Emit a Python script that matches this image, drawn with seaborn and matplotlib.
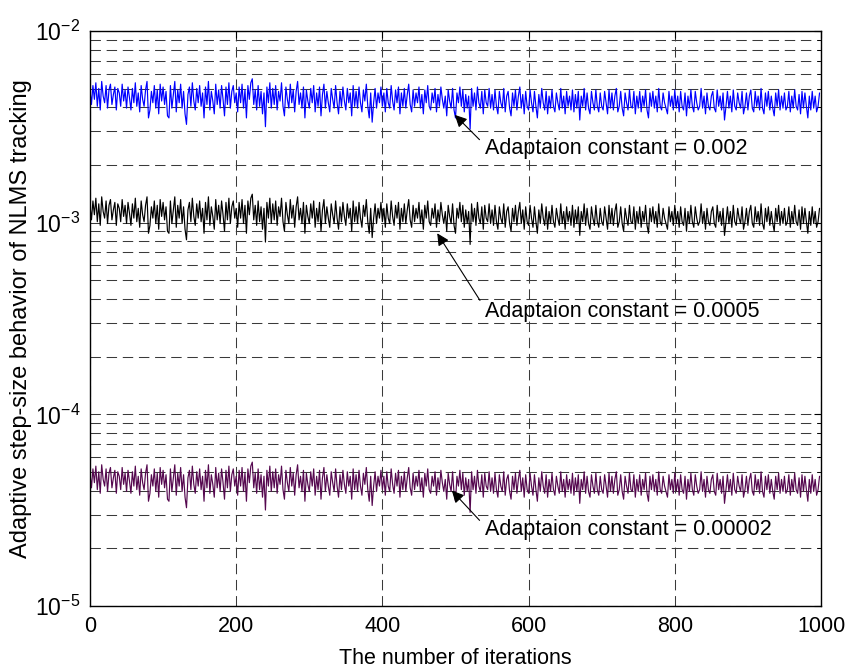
import numpy as np
import pandas as pd
import matplotlib
matplotlib.use("Agg")
import matplotlib.pyplot as plt
import matplotlib.ticker as mticker
import seaborn as sns

# Step-size trace, in percent of each run's steady level (one sample every 2 iterations)
trace_pct = [
    112, 94, 118, 100, 122, 92, 114, 88, 124, 104, 96, 118, 90, 112, 120, 94, 106, 116, 88, 114, 108, 92, 120, 98, 112,
    90, 116, 102, 88, 114, 96, 122, 92, 108, 86, 118, 100, 92, 112, 124, 80, 88, 110, 96, 118, 90, 112, 84, 120, 98,
    116, 94, 110, 82, 80, 118, 90, 106, 124, 86, 112, 96, 120, 90, 110, 84, 74, 106, 116, 92, 122, 98, 88, 114, 96,
    118, 92, 108, 80, 116, 94, 124, 88, 110, 98, 84, 120, 94, 112, 90, 118, 100, 82, 116, 94, 122, 90, 110, 118, 96,
    108, 86, 116, 96, 120, 90, 112, 80, 118, 100, 122, 128, 94, 112, 88, 118, 92, 110, 84, 108, 72, 116, 96, 122, 90,
    114, 94, 118, 88, 110, 98, 122, 92, 82, 116, 100, 90, 120, 96, 112, 86, 110, 124, 94, 108, 90, 116, 80, 112, 98,
    90, 114, 96, 118, 86, 108, 92, 116, 82, 106, 120, 90, 110, 96, 86, 114, 100, 90, 118, 96, 84, 110, 92, 116, 98,
    88, 114, 96, 108, 82, 118, 92, 110, 90, 116, 96, 86, 112, 98, 120, 92, 80, 108, 76, 96, 114, 90, 108, 96, 116,
    92, 108, 86, 114, 96, 90, 118, 98, 88, 112, 96, 116, 84, 108, 92, 114, 90, 106, 120, 94, 86, 112, 92, 108, 96,
    116, 90, 106, 84, 112, 96, 118, 92, 88, 108, 96, 114, 86, 106, 92, 116, 100, 90, 104, 82, 112, 98, 90, 114, 88,
    80, 108, 96, 116, 92, 112, 86, 106, 90, 104, 70, 114, 92, 108, 88, 116, 96, 90, 110, 84, 112, 96, 92, 114, 90,
    106, 88, 112, 92, 84, 110, 96, 90, 114, 86, 104, 110, 90, 82, 108, 92, 112, 88, 104, 116, 90, 106, 84, 110, 92,
    88, 112, 96, 86, 110, 92, 80, 106, 90, 114, 96, 88, 110, 84, 104, 90, 112, 92, 86, 108, 96, 88, 114, 90, 104,
    84, 110, 92, 104, 88, 112, 86, 106, 90, 110, 78, 104, 92, 114, 88, 108, 90, 84, 110, 96, 88, 112, 92, 86, 108,
    92, 88, 110, 96, 84, 112, 90, 108, 88, 104, 114, 86, 92, 110, 90, 82, 108, 96, 88, 112, 92, 90, 110, 84, 104,
    90, 110, 86, 104, 92, 112, 88, 80, 108, 92, 110, 90, 104, 86, 114, 92, 88, 108, 96, 90, 84, 110, 92, 104, 88,
    112, 90, 104, 86, 110, 92, 88, 108, 82, 104, 90, 112, 92, 86, 110, 96, 88, 92, 114, 90, 104, 84, 108, 92, 88,
    104, 110, 90, 86, 112, 92, 104, 88, 108, 78, 92, 110, 90, 104, 86, 112, 92, 88, 108, 96, 90, 110, 84, 92, 108,
    88, 104, 112, 90, 86, 110, 92, 104, 88, 114, 90, 84, 108, 92, 110, 88, 104, 90, 82, 108, 92, 112, 88, 104, 90,
    108, 88, 92, 110, 86, 104, 90, 112, 92, 88, 106, 84, 110, 90, 108, 92, 80, 104, 88, 110, 90, 104, 86, 92, 108,
]
iterations = list(range(0, 2 * len(trace_pct), 2))

# Adaptation constants and the steady step-size level each one settles to
mu_labels = ["0.002", "0.0005", "0.00002"]
steady_levels = [4.4e-3, 1.1e-3, 4.4e-5]
line_colors = ["#0000ff", "#000000", "#55084f"]

# Annotation anchors: (iteration, value) of arrow tip and of text
arrow_tips = [(499, 3.65e-3), (475, 8.8e-4), (495, 4.0e-5)]
text_pos = [(540, 2.45e-3), (540, 3.46e-4), (540, 2.52e-5)]

frames = []
for lab, lvl in zip(mu_labels, steady_levels):
    frames.append(pd.DataFrame({
        "iteration": iterations,
        "step": [lvl * p / 100.0 for p in trace_pct],
        "mu": lab,
    }))
df = pd.concat(frames, ignore_index=True)

sns.set_style("white")
plt.rcParams["font.family"] = ["Liberation Sans", "DejaVu Sans"]
plt.rcParams["mathtext.fontset"] = "custom"
plt.rcParams["mathtext.rm"] = "Liberation Sans"
plt.rcParams["mathtext.it"] = "Liberation Sans:italic"
plt.rcParams["axes.unicode_minus"] = False
for key in ["text.color", "axes.labelcolor", "xtick.color", "ytick.color"]:
    plt.rcParams[key] = "black"

fig = plt.figure(figsize=(8.47, 6.69), dpi=100)
ax = fig.add_axes([90 / 847, 63 / 669, 731 / 847, 575 / 669])

sns.lineplot(data=df, x="iteration", y="step", hue="mu",
             palette=dict(zip(mu_labels, line_colors)),
             estimator=None, legend=False, lw=0.85, ax=ax)

ax.set_yscale("log")
ax.set_xlim(0, 1000)
ax.set_ylim(1e-5, 1e-2)
ax.xaxis.set_major_locator(mticker.MultipleLocator(200))
ax.yaxis.set_major_locator(mticker.LogLocator(base=10, numticks=10))
ax.yaxis.set_minor_locator(mticker.LogLocator(base=10, subs=np.arange(2, 10), numticks=20))
ax.yaxis.set_major_formatter(mticker.LogFormatterMathtext())
ax.yaxis.set_minor_formatter(mticker.NullFormatter())

grid_kw = dict(color="#3a3a3a", linestyle=(0, (10, 5.5)), linewidth=0.75)
ax.grid(True, which="major", axis="both", **grid_kw)
ax.grid(True, which="minor", axis="y", **grid_kw)
ax.set_axisbelow(True)

ax.tick_params(which="both", direction="in", top=True, right=True,
               labelsize=15.5, colors="black")
ax.tick_params(axis="y", which="major", labelsize=16.5)
ax.tick_params(which="major", length=5, width=0.8, pad=7)
ax.tick_params(which="minor", length=3, width=0.6)
for sp in ax.spines.values():
    sp.set_color("black")
    sp.set_linewidth(1.0)

ax.set_xlabel("The number of iterations", fontsize=15.5, labelpad=8)
ax.set_ylabel("Adaptive step-size behavior of NLMS tracking", fontsize=17, labelpad=2)

for lab, tip, tpos in zip(mu_labels, arrow_tips, text_pos):
    ax.annotate(f"Adaptaion constant = {lab}", xy=tip, xytext=tpos,
                ha="left", va="center", fontsize=15.5,
                arrowprops=dict(arrowstyle="-|>", color="black", lw=0.8,
                                mutation_scale=18, relpos=(0.0, 0.65),
                                shrinkA=2, shrinkB=0))

fig.savefig("out.png", dpi=100)
